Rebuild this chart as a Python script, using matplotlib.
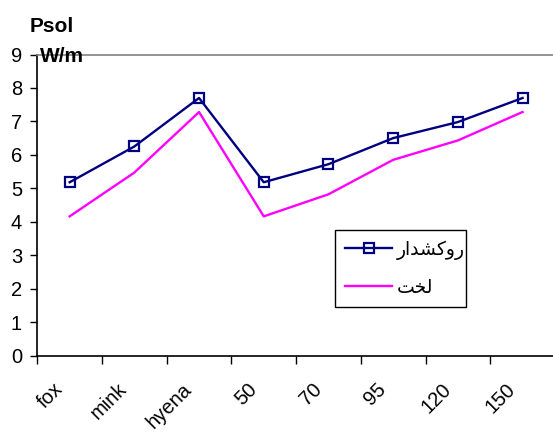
import numpy as np
import matplotlib
matplotlib.use("Agg")
import matplotlib.pyplot as plt
from matplotlib.transforms import ScaledTranslation

plt.rcParams['font.family'] = ['Liberation Sans', 'DejaVu Sans']

categories = ['fox', 'mink', 'hyena', '50', '70', '95', '120', '150']
coated = [5.18, 6.25, 7.7, 5.18, 5.72, 6.5, 6.98, 7.7]
bare = [4.16, 5.47, 7.28, 4.16, 4.82, 5.85, 6.43, 7.28]
y_ticks = list(range(0, 10))

# Persian labels written with presentation forms in visual order,
# since matplotlib does no Arabic shaping on its own
label_coated = '\ufead\ufe8d\ufeaa\ufeb8\ufb90\ufeed\ufead'  # روکشدار
label_bare = '\ufe96\ufea8\ufedf'  # لخت

W, H = 553, 434
fig = plt.figure(figsize=(W / 100, H / 100), dpi=100)
ax = fig.add_axes([37.3 / W, 78.5 / H, 8 * 64.7 / W, 301 / H])

x = np.arange(len(categories)) + 0.5
ax.plot(x, coated, color='#000080', lw=1.7, marker='s', ms=6.8,
        mfc='none', mec='#000080', mew=1.6, label=label_coated)
ax.plot(x, bare, color='#ff00ff', lw=1.7, label=label_bare)

ax.set_xlim(0, len(categories))
ax.set_ylim(0, 9)
ax.set_yticks(y_ticks)
ax.tick_params(axis='y', direction='out', length=5, width=1, pad=6,
               labelsize=14.5)

# category labels sit at the centres, tick marks at the boundaries
ax.set_xticks(x)
ax.set_xticklabels(categories, rotation=45, ha='right', va='center',
                   rotation_mode='anchor', fontsize=14.5)
ax.tick_params(axis='x', which='major', length=0, pad=22)
shift = ScaledTranslation(-10 / 100, 0, fig.dpi_scale_trans)
for lbl in ax.get_xticklabels():
    lbl.set_transform(lbl.get_transform() + shift)
ax.set_xticks(np.arange(len(categories)), minor=True)
ax.tick_params(axis='x', which='minor', direction='out', length=6, width=1)

for side in ['left', 'bottom']:
    ax.spines[side].set_color('black')
    ax.spines[side].set_linewidth(1.2)
ax.spines['top'].set_color('#808080')
ax.spines['top'].set_linewidth(1.2)
ax.spines['right'].set_visible(False)

fig.text(30 / W, 1 - 32 / H, 'Psol', fontsize=15, fontweight='bold',
         va='baseline', ha='left')
fig.text(40 / W, 1 - 62 / H, 'W/m', fontsize=15, fontweight='bold',
         va='baseline', ha='left')

leg = fig.legend(loc='lower left',
                 bbox_to_anchor=(335 / W, 1 - 307 / H, 131 / W, 79 / H),
                 mode='expand', fancybox=False, shadow=False,
                 edgecolor='black', framealpha=1, fontsize=13.5,
                 handlelength=2.5, handletextpad=0.25, borderpad=0.55,
                 labelspacing=1.05, borderaxespad=0)
leg.get_frame().set_linewidth(1.0)

fig.savefig('out.png', dpi=100)
